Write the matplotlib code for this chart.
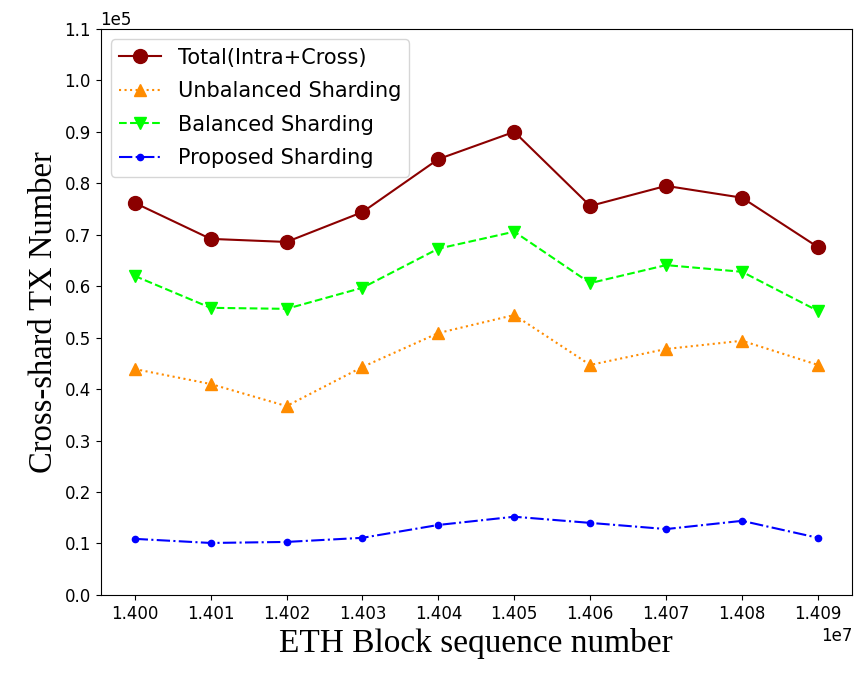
import numpy as np
import matplotlib
matplotlib.use("Agg")
import matplotlib.pyplot as plt

# block numbers on the x axis
blocks = [14000000, 14010000, 14020000, 14030000, 14040000,
          14050000, 14060000, 14070000, 14080000, 14090000]

# cross-shard tx counts
total = [76200, 69200, 68600, 74400, 84700, 90000, 75600, 79500, 77200, 67600]
unbalanced = [43900, 41000, 36700, 44300, 50900, 54400, 44700, 47800, 49400, 44700]
balanced = [62000, 55800, 55600, 59700, 67300, 70600, 60600, 64100, 62800, 55200]
proposed = [10900, 10100, 10300, 11100, 13600, 15200, 14000, 12800, 14400, 11100]

fig, ax = plt.subplots(figsize=(8.59, 6.73), dpi=100)

ax.plot(blocks, total, color="darkred", linestyle="-", marker="o",
        markersize=10, label="Total(Intra+Cross)")
ax.plot(blocks, unbalanced, color="darkorange", linestyle=":", marker="^",
        markersize=9, label="Unbalanced Sharding")
ax.plot(blocks, balanced, color="lime", linestyle="--", marker="v",
        markersize=9, label="Balanced Sharding")
ax.plot(blocks, proposed, color="blue", linestyle="-.", marker=".",
        markersize=9, label="Proposed Sharding")

ax.set_ylim(0, 110000)
ax.set_yticks(np.arange(0, 110001, 10000))
ax.set_xticks(blocks)
ax.ticklabel_format(axis="y", style="sci", scilimits=(0, 0))
ax.tick_params(labelsize=12)
ax.xaxis.get_offset_text().set_fontsize(12)
ax.yaxis.get_offset_text().set_fontsize(12)

ax.set_xlabel("ETH Block sequence number", fontsize=24, family="Liberation Serif")
ax.set_ylabel("Cross-shard TX Number", fontsize=23.5, family="Liberation Serif")
ax.legend(loc="upper left", fontsize=15, labelspacing=0.65)

plt.subplots_adjust(left=0.117, right=0.992, top=0.957, bottom=0.116)
plt.savefig("out.png", dpi=100)
